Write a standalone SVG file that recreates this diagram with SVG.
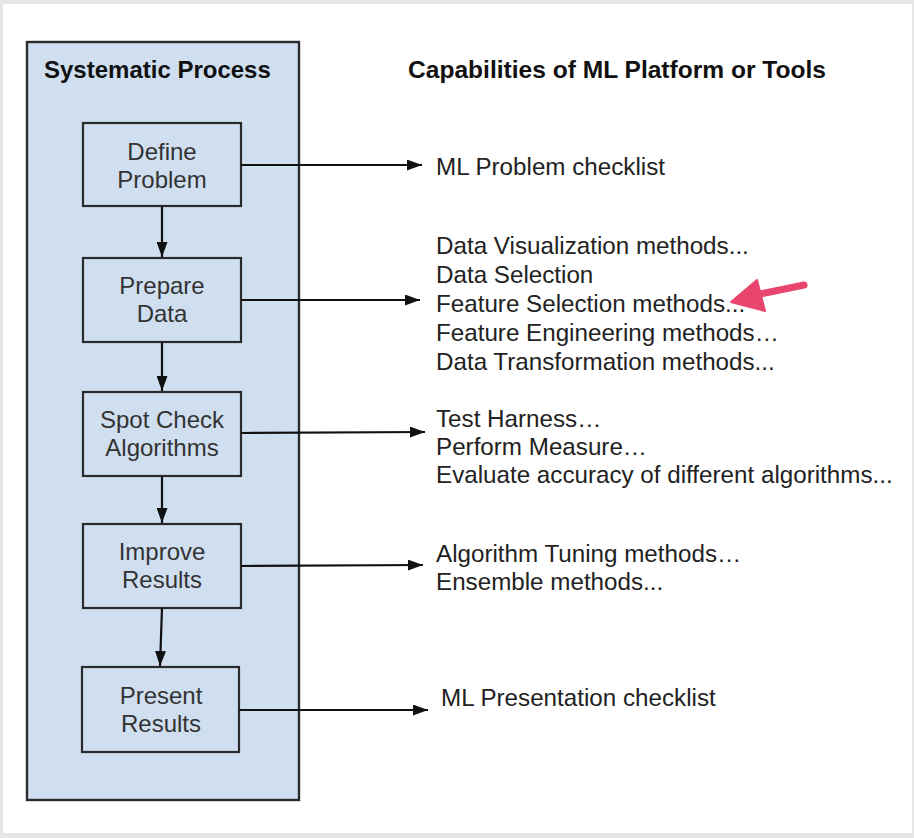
<svg xmlns="http://www.w3.org/2000/svg" width="914" height="838" viewBox="0 0 914 838">
<style>
.node rect{fill:#cfdff0;stroke:#2b2b2b;stroke-width:2.2}
.nt{font-family:"Liberation Sans",Arial,sans-serif;font-size:24px;fill:#333;text-anchor:middle}
.rt{font-family:"Liberation Sans",Arial,sans-serif;font-size:24.2px;fill:#222}
.title{font-family:"Liberation Sans",Arial,sans-serif;font-size:24px;font-weight:bold;fill:#111}
.conn line{stroke:#111;stroke-width:2.2}
</style>
<defs>
<marker id="ah" viewBox="0 0 15 11" refX="15" refY="5.5" markerWidth="15" markerHeight="11" markerUnits="userSpaceOnUse" orient="auto">
<path d="M0,0 L15,5.5 L0,11 z" fill="#111"/>
</marker>
</defs>
<rect x="0" y="0" width="914" height="838" fill="#e6e6e6"/>
<rect x="3" y="4" width="909" height="829" fill="#ffffff"/>
<g id="container">
<rect x="27" y="42" width="272" height="758" fill="#cfdff0" stroke="#2b2b2b" stroke-width="2.4"/>
<text class="title" x="44" y="78">Systematic Process</text>
</g>
<text class="title" x="408" y="78" textLength="418" lengthAdjust="spacingAndGlyphs">Capabilities of ML Platform or Tools</text>
<g id="define" class="node">
<rect x="83" y="123" width="158" height="83"/>
<text class="nt" x="162" y="160">Define</text>
<text class="nt" x="162" y="188">Problem</text>
</g>
<g id="prepare" class="node">
<rect x="83" y="258" width="158" height="84"/>
<text class="nt" x="162" y="294">Prepare</text>
<text class="nt" x="162" y="322">Data</text>
</g>
<g id="spot" class="node">
<rect x="83" y="392" width="158" height="84"/>
<text class="nt" x="162" y="428">Spot Check</text>
<text class="nt" x="162" y="456">Algorithms</text>
</g>
<g id="improve" class="node">
<rect x="83" y="524" width="158" height="84"/>
<text class="nt" x="162" y="560">Improve</text>
<text class="nt" x="162" y="588">Results</text>
</g>
<g id="present" class="node">
<rect x="82" y="667" width="157" height="85"/>
<text class="nt" x="161" y="704">Present</text>
<text class="nt" x="161" y="732">Results</text>
</g>
<g id="connectors" class="conn">
<line x1="162" y1="206" x2="162" y2="257" marker-end="url(#ah)"/>
<line x1="162" y1="342" x2="162" y2="391" marker-end="url(#ah)"/>
<line x1="162" y1="476" x2="162" y2="523" marker-end="url(#ah)"/>
<line x1="162" y1="608" x2="160" y2="666" marker-end="url(#ah)"/>
<line x1="241" y1="165" x2="422" y2="165" marker-end="url(#ah)"/>
<line x1="241" y1="300" x2="420" y2="300" marker-end="url(#ah)"/>
<line x1="241" y1="433" x2="425" y2="432" marker-end="url(#ah)"/>
<line x1="241" y1="566" x2="423" y2="565" marker-end="url(#ah)"/>
<line x1="239" y1="710" x2="428" y2="710" marker-end="url(#ah)"/>
</g>
<g id="cap-define">
<text class="rt" x="436" y="175">ML Problem checklist</text>
</g>
<g id="cap-prepare">
<text class="rt" x="436" y="254">Data Visualization methods...</text>
<text class="rt" x="436" y="283">Data Selection</text>
<text class="rt" x="436" y="312">Feature Selection methods...</text>
<text class="rt" x="436" y="341">Feature Engineering methods…</text>
<text class="rt" x="436" y="370">Data Transformation methods...</text>
</g>
<g id="cap-spot">
<text class="rt" x="436" y="427">Test Harness…</text>
<text class="rt" x="436" y="455">Perform Measure…</text>
<text class="rt" x="436" y="483">Evaluate accuracy of different algorithms...</text>
</g>
<g id="cap-improve">
<text class="rt" x="436" y="562">Algorithm Tuning methods…</text>
<text class="rt" x="436" y="590">Ensemble methods...</text>
</g>
<g id="cap-present">
<text class="rt" x="441" y="706">ML Presentation checklist</text>
</g>
<g id="pointer">
<line x1="760" y1="294" x2="804" y2="285" stroke="#e8466f" stroke-width="7" stroke-linecap="round"/>
<path d="M731,302 L757,280 L765,311 z" fill="#e8466f" stroke="#e8466f" stroke-width="2" stroke-linejoin="round"/>
</g>
</svg>
